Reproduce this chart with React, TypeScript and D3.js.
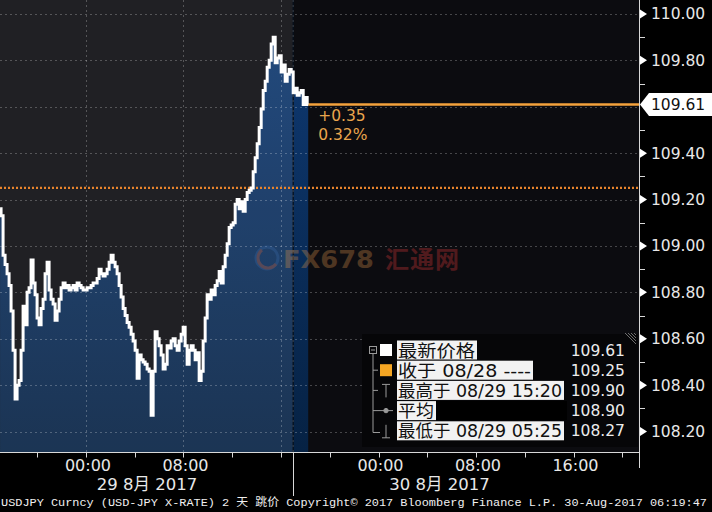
import React from "react";
import * as d3 from "d3";

// ---- data ----
// USDJPY price, sampled every ~9.85 minutes starting 28 Aug ~16:57 (hours relative to 29 Aug 00:00)
const startHour = -7.05;
const stepMinutes = 9.85;
const prices = [
  109.16, 109.13, 108.96, 108.92, 108.88, 108.83, 108.72, 108.55, 108.34, 108.40,
  108.42, 108.55, 108.74, 108.66, 108.80, 108.82, 108.94, 108.84, 108.79, 108.69,
  108.66, 108.73, 108.77, 108.88, 108.93, 108.81, 108.77, 108.75, 108.68, 108.72,
  108.77, 108.82, 108.84, 108.82, 108.83, 108.81, 108.82, 108.83, 108.81, 108.84,
  108.83, 108.82, 108.81, 108.81, 108.82, 108.82, 108.83, 108.84, 108.84, 108.86,
  108.90, 108.88, 108.87, 108.88, 108.90, 108.93, 108.96, 108.93, 108.91, 108.88,
  108.83, 108.78, 108.73, 108.70, 108.67, 108.65, 108.62, 108.59, 108.55, 108.43,
  108.53, 108.51, 108.50, 108.49, 108.47, 108.46, 108.27, 108.46, 108.63, 108.60,
  108.57, 108.53, 108.47, 108.49, 108.57, 108.56, 108.59, 108.60, 108.57, 108.55,
  108.59, 108.62, 108.65, 108.57, 108.49, 108.55, 108.57, 108.55, 108.51, 108.54,
  108.42, 108.46, 108.59, 108.69, 108.79, 108.77, 108.81, 108.79, 108.83, 108.85,
  108.89, 108.84, 108.91, 108.96, 109.01, 109.08, 109.09, 109.10, 109.18, 109.20,
  109.16, 109.19, 109.15, 109.20, 109.23, 109.24, 109.25, 109.32, 109.38, 109.44,
  109.51, 109.59, 109.67, 109.71, 109.77, 109.80, 109.87, 109.90, 109.79, 109.81,
  109.82, 109.75, 109.78, 109.71, 109.74, 109.76, 109.75, 109.66, 109.68, 109.65,
  109.66, 109.67, 109.61, 109.64, 109.61,
];

const yLabelValues = [110.0, 109.8, 109.4, 109.2, 109.0, 108.8, 108.6, 108.4, 108.2];
const yMinorValues = [109.9, 109.7, 109.5, 109.3, 109.1, 108.9, 108.7, 108.5, 108.3];
const xLabelHours = [0, 8, 24, 32, 40];
const xLabelTexts = ["00:00", "08:00", "00:00", "08:00", "16:00"];
const xTickHours = [-4, 0, 4, 8, 12, 16, 20, 24, 28, 32, 36, 40, 44];
const xGridHours = [0, 8, 16];
const dayLabels = ["29 8月 2017", "30 8月 2017"];
const dayCenterHours = [5, 29];
const sessionBreakHour = 17;
const lastPrice = 109.61;
const prevClose = 109.25;
const changeTexts = ["+0.35", "0.32%"];
const legendLabels = ["最新价格", "收于 08/28 ----", "最高于 08/29 15:20", "平均", "最低于 08/29 05:25"];
const legendValues = ["109.61", "109.25", "109.90", "108.90", "108.27"];
const footerText =
  "USDJPY Curncy (USD-JPY X-RATE) 2 天  跳价 Copyright© 2017 Bloomberg Finance L.P. 30-Aug-2017 06:19:47";

const NUM_FONT = "'DejaVu Sans', 'Noto Sans CJK SC', sans-serif";
const CJK_FONT = "'DejaVu Sans', 'Noto Sans CJK SC', sans-serif";
const ORANGE = "#f4a23c";

export default function App() {
  const W = 712;
  const H = 512;
  const plotW = 639;
  const plotH = 452;

  const x = d3.scaleLinear().domain([-7.056, 45.374]).range([0, plotW]);
  const y = d3.scaleLinear().domain([108.112, 110.06]).range([plotH, 0]);

  const data = prices.map((p, i) => ({ h: startHour + (i * stepMinutes) / 60, p }));
  const line = d3
    .line<{ h: number; p: number }>()
    .x((d) => x(d.h))
    .y((d) => y(d.p))
    .curve(d3.curveStep);
  const area = d3
    .area<{ h: number; p: number }>()
    .x((d) => x(d.h))
    .y0(plotH)
    .y1((d) => y(d.p))
    .curve(d3.curveStep);

  const xBreak = x(sessionBreakHour);
  const xLast = x(data[data.length - 1].h);
  const yLast = y(lastPrice);
  const yPrev = y(prevClose);

  // legend geometry
  const lgX = 362;
  const lgY = 334;
  const rowY = (i: number) => 350 + i * 20.2;
  const labelX = 397;
  const labelWidths = [80, 136, 167, 39, 167];

  return (
    <svg
      width={W}
      height={H}
      style={{ position: "fixed", left: 0, top: 0, display: "block", background: "#000" }}
    >
      <defs>
        <linearGradient id="fillGrad" x1="0" y1="40" x2="0" y2={plotH} gradientUnits="userSpaceOnUse">
          <stop offset="0" stopColor="#0e3870" />
          <stop offset="1" stopColor="#062244" />
        </linearGradient>
        <clipPath id="plotClip">
          <rect x={0} y={0} width={plotW} height={plotH} />
        </clipPath>
      </defs>

      <rect x={0} y={0} width={W} height={H} fill="#000" />
      {/* plot background */}
      <rect x={0} y={0} width={plotW} height={plotH} fill="#0c0c10" />

      <g clipPath="url(#plotClip)">
        {/* area */}
        <path d={area(data) || ""} fill="url(#fillGrad)" />

        {/* previous-session overlay */}
        <rect x={0} y={0} width={xBreak} height={plotH} fill="#ffffff" opacity={0.085} />

        {/* horizontal grid */}
        {[...yLabelValues, 109.6].map((v) => (
          <line
            key={"hg" + v}
            x1={0}
            x2={plotW}
            y1={Math.round(y(v)) + 0.5}
            y2={Math.round(y(v)) + 0.5}
            stroke="rgba(255,255,255,0.24)"
            strokeDasharray="2,3"
          />
        ))}
        {/* vertical grid */}
        {xGridHours.map((h) => (
          <line
            key={"vg" + h}
            x1={Math.round(x(h)) + 0.5}
            x2={Math.round(x(h)) + 0.5}
            y1={0}
            y2={plotH}
            stroke="rgba(255,255,255,0.24)"
            strokeDasharray="2,3"
          />
        ))}
        {/* session break */}
        <line x1={xBreak} x2={xBreak} y1={0} y2={plotH} stroke="#07101c" strokeWidth={1.3} />
        <line
          x1={xBreak}
          x2={xBreak}
          y1={0}
          y2={plotH}
          stroke="rgba(255,255,255,0.2)"
          strokeDasharray="2,3"
        />

        {/* watermark */}
        <g opacity={0.32}>
          <circle cx={267} cy={258} r={11} fill="none" stroke="#3a6aa8" strokeWidth={3} />
          <path d="M 262 250 A 10 10 0 1 0 276 264" fill="none" stroke="#d0603a" strokeWidth={3} />
          <text
            x={283}
            y={268}
            fontFamily="'DejaVu Sans', sans-serif"
            fontWeight="bold"
            fontSize={25}
            fill="#d9904a"
            textLength={91}
            lengthAdjust="spacingAndGlyphs"
          >
            FX678
          </text>
          <text
            x={385}
            y={268}
            fontFamily="'Noto Sans CJK SC', sans-serif"
            fontWeight="bold"
            fontSize={24}
            fill="#e03a3a"
            textLength={74}
          >
            汇通网
          </text>
        </g>

        {/* previous close dotted */}
        <line
          x1={0}
          x2={plotW}
          y1={yPrev}
          y2={yPrev}
          stroke="#e8842c"
          strokeWidth={2.2}
          strokeDasharray="2,2"
        />
        {/* last price line */}
        <line x1={xLast} x2={plotW} y1={yLast} y2={yLast} stroke={ORANGE} strokeWidth={2.5} />

        {/* price line */}
        <path
          d={line(data) || ""}
          fill="none"
          stroke="#ffffff"
          strokeWidth={3}
          strokeLinejoin="miter"
        />
      </g>

      {/* change text */}
      <text x={xLast + 10} y={121} fontFamily={NUM_FONT} fontSize={15.5} fill="#e9a54d">
        {changeTexts[0]}
      </text>
      <text x={xLast + 10} y={140} fontFamily={NUM_FONT} fontSize={15.5} fill="#e9a54d">
        {changeTexts[1]}
      </text>

      {/* legend */}
      <g>
        <rect x={lgX} y={lgY} width={plotW - lgX - 1} height={447 - lgY} fill="#060608" />
        {/* grip */}
        {[0, 1, 2, 3].map((k) => (
          <line
            key={"grip" + k}
            x1={625 + k * 3}
            y1={333}
            x2={636}
            y2={344 - k * 3}
            stroke="#888"
            strokeWidth={0.8}
          />
        ))}
        {/* tree */}
        <g stroke="#9a9a9a" strokeWidth={1} fill="none">
          <rect x={369.5} y={346.5} width={7} height={7} />
          <line x1={371} x2={375} y1={350} y2={350} />
          <line x1={373} x2={373} y1={354} y2={432.5} />
          <line x1={373} x2={380} y1={432.5} y2={432.5} />
          <line x1={373} x2={378} y1={rowY(1)} y2={rowY(1)} />
          <line x1={373} x2={378} y1={rowY(2)} y2={rowY(2)} />
          <line x1={382} x2={390} y1={rowY(2) - 6} y2={rowY(2) - 6} />
          <line x1={386} x2={386} y1={rowY(2) - 6} y2={rowY(2) + 7} />
          <line x1={373} x2={393} y1={rowY(3)} y2={rowY(3)} />
          <circle cx={386} cy={rowY(3)} r={2.2} fill="#9a9a9a" />
          <line x1={386} x2={386} y1={rowY(4) - 6} y2={rowY(4) + 7} />
          <line x1={382} x2={390} y1={rowY(4) + 7} y2={rowY(4) + 7} />
        </g>
        <rect x={380} y={rowY(0) - 6} width={12} height={12} fill="#ffffff" />
        <rect x={380} y={rowY(1) - 6} width={12} height={12} fill="#f5a623" />

        {/* black box in 平均 row */}
        <rect x={labelX + labelWidths[3]} y={rowY(3) - 9.5} width={131} height={19} fill="#000" />

        {legendLabels.map((t, i) => (
          <g key={"lg" + i}>
            <rect x={labelX} y={rowY(i) - 9.5} width={labelWidths[i]} height={19} fill="#f2f2f2" />
            <text
              x={labelX + 1}
              y={rowY(i) + 6.5}
              fontFamily={CJK_FONT}
              fontSize={17}
              fill="#111"
              textLength={labelWidths[i] - 3}
              lengthAdjust="spacingAndGlyphs"
            >
              {t}
            </text>
            <text
              x={625}
              y={rowY(i) + 5.5}
              textAnchor="end"
              fontFamily={NUM_FONT}
              fontSize={15.5}
              fill="#ececec"
            >
              {legendValues[i]}
            </text>
          </g>
        ))}
      </g>

      {/* right axis */}
      <line x1={639.5} x2={639.5} y1={0} y2={468} stroke="#d8d8d8" strokeWidth={1} />
      {yMinorValues.map((v) => (
        <line
          key={"ym" + v}
          x1={640}
          x2={645}
          y1={Math.round(y(v)) + 0.5}
          y2={Math.round(y(v)) + 0.5}
          stroke="#d8d8d8"
        />
      ))}
      {yLabelValues.map((v) => (
        <g key={"yl" + v}>
          <polygon
            points={`640,${y(v) - 4.5} 647,${y(v)} 640,${y(v) + 4.5}`}
            fill="#ffffff"
          />
          <text
            x={651}
            y={y(v) + 5.5}
            fontFamily={NUM_FONT}
            fontSize={15.5}
            fill="#e8e8e8"
          >
            {v.toFixed(2)}
          </text>
        </g>
      ))}
      {/* last price tag */}
      <polygon
        points={`640,${yLast} 649,${yLast - 11.5} 712,${yLast - 11.5} 712,${yLast + 11.5} 649,${yLast + 11.5}`}
        fill="#ffffff"
      />
      <text x={651} y={yLast + 5.5} fontFamily={NUM_FONT} fontSize={15.5} fill="#111">
        {lastPrice.toFixed(2)}
      </text>

      {/* bottom axis */}
      <line x1={0} x2={640} y1={452.5} y2={452.5} stroke="#d8d8d8" />
      {xTickHours.map((h) => (
        <line
          key={"xt" + h}
          x1={Math.round(x(h)) + 0.5}
          x2={Math.round(x(h)) + 0.5}
          y1={452.5}
          y2={457.5}
          stroke="#d8d8d8"
        />
      ))}
      <line x1={Math.round(xBreak) + 0.5} x2={Math.round(xBreak) + 0.5} y1={452} y2={496} stroke="#d8d8d8" />
      {xLabelHours.map((h, i) => (
        <text
          key={"xl" + h}
          x={x(h) + 2}
          y={471}
          textAnchor="middle"
          fontFamily={NUM_FONT}
          fontSize={16}
          fill="#e8e8e8"
        >
          {xLabelTexts[i]}
        </text>
      ))}
      {dayLabels.map((t, i) => (
        <text
          key={"dl" + i}
          x={x(dayCenterHours[i])}
          y={490}
          textAnchor="middle"
          fontFamily={CJK_FONT}
          fontSize={16.5}
          fill="#e8e8e8"
        >
          {t}
        </text>
      ))}

      {/* footer */}
      <text
        x={1}
        y={505.5}
        fontFamily="'Liberation Mono', 'DejaVu Sans Mono', 'Noto Sans CJK SC', monospace"
        fontSize={11.5}
        fill="#f0f0f0"
        textLength={706}
        lengthAdjust="spacingAndGlyphs"
      >
        {footerText}
      </text>
    </svg>
  );
}
